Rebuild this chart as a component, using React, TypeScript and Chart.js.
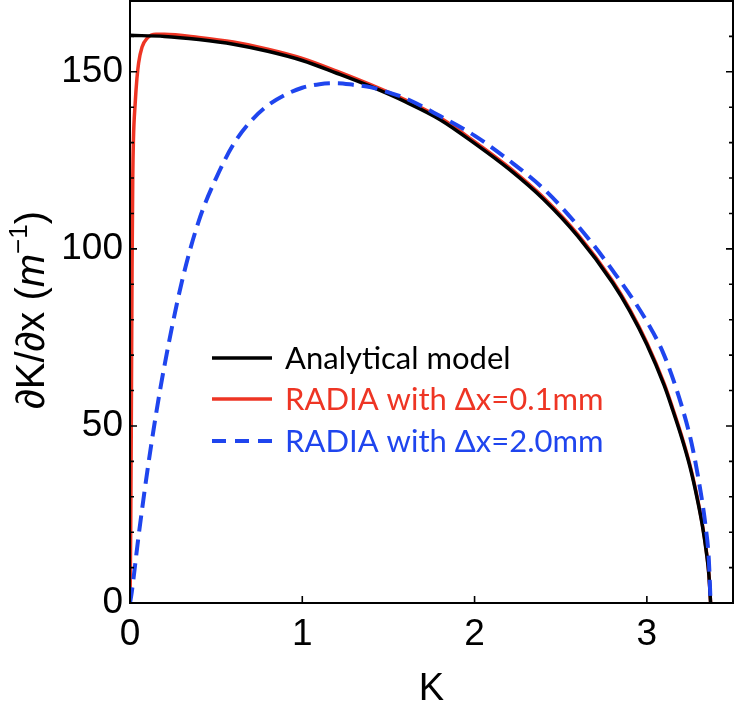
import React, { useEffect, useRef } from 'react';
import { Chart, registerables } from 'chart.js';
Chart.register(...registerables);

// ---- data ----
const analyticK = [0, 0.2, 0.4, 0.6, 0.8, 1.0, 1.2, 1.4, 1.6, 1.8, 2.0, 2.2, 2.4, 2.6, 2.8, 2.9, 3.0, 3.1, 3.15, 3.2, 3.25, 3.29, 3.32, 3.345, 3.36, 3.37];
const analyticVal = [160.3, 160, 159.1, 157.8, 155.8, 153.2, 149.6, 145.8, 141.5, 136.5, 129.8, 122.5, 114, 103.5, 90.5, 82.5, 73, 61.5, 54.5, 47, 38.5, 30, 22.5, 14.5, 8, 0];

const radiaFineK = [0, 0.004, 0.008, 0.012, 0.016, 0.02, 0.03, 0.04, 0.05, 0.07, 0.1, 0.15, 0.2, 0.4, 0.6, 0.8, 1.0, 1.2, 1.4, 1.6, 1.8, 2.0, 2.2, 2.4, 2.6, 2.8, 2.9, 3.0, 3.1, 3.15, 3.2, 3.25, 3.29, 3.32, 3.345, 3.36, 3.37];
const radiaFineVal = [0, 20, 55, 95, 120, 131, 141, 148, 152.5, 157, 159.5, 160.6, 160.6, 159.7, 158.4, 156.4, 153.8, 150.2, 146.3, 142, 137, 130.3, 123, 114.5, 104, 91, 83, 73.5, 62, 55, 47.5, 39, 30.4, 22.8, 14.8, 8.2, 0];

const radiaCoarseK = [0, 0.01, 0.05, 0.1, 0.15, 0.2, 0.3, 0.4, 0.5, 0.6, 0.7, 0.8, 0.9, 1.0, 1.1, 1.2, 1.3, 1.4, 1.5, 1.6, 1.8, 2.0, 2.2, 2.4, 2.6, 2.8, 3.0, 3.1, 3.2, 3.26, 3.31, 3.34, 3.36, 3.37];
const radiaCoarseVal = [0, 3, 19, 37, 53, 67, 90.5, 108, 120, 129.5, 136, 140.5, 143.5, 145.5, 146.5, 146.8, 146.3, 145.6, 144.2, 142.5, 137.5, 132, 125, 117, 106.5, 94, 79.5, 70, 56, 45, 32, 22, 12, 0];

const xTickValues = [0, 1, 2, 3];
const yTickValues = [0, 50, 100, 150];
const seriesLabels = ['Analytical model', 'RADIA with Δx=0.1mm', 'RADIA with Δx=2.0mm'];
const seriesColors = ['#000000', '#ee3524', '#1f45ee'];

const pts = (xs: number[], ys: number[]) => xs.map((x, i) => ({ x, y: ys[i] }));

const TICK_FONT = '"Liberation Sans", Arial, sans-serif';
const LEGEND_FONT = 'Lato, "Open Sans", sans-serif';

const decorPlugin = {
  id: 'decor',
  afterDraw(chart: any) {
    const { ctx, chartArea: a, scales } = chart;
    const xs = scales.x;
    const ys = scales.y;
    ctx.save();
    // frame
    ctx.strokeStyle = '#000';
    ctx.lineWidth = 2;
    ctx.strokeRect(a.left, a.top, a.right - a.left, a.bottom - a.top);
    // y ticks (inward), left and right
    ctx.lineWidth = 1.6;
    for (let v = 0; v <= 170; v += 10) {
      const py = ys.getPixelForValue(v);
      const len = yTickValues.includes(v) ? 7 : 4;
      ctx.beginPath();
      ctx.moveTo(a.left, py); ctx.lineTo(a.left + len, py);
      ctx.moveTo(a.right, py); ctx.lineTo(a.right - len, py);
      ctx.stroke();
    }
    for (const v of xTickValues) {
      const px = xs.getPixelForValue(v);
      ctx.beginPath();
      ctx.moveTo(px, a.bottom); ctx.lineTo(px, a.bottom - 7);
      ctx.stroke();
    }
    // x title
    ctx.fillStyle = '#000';
    ctx.font = `38px ${TICK_FONT}`;
    ctx.textAlign = 'center';
    ctx.textBaseline = 'alphabetic';
    ctx.fillText('K', (a.left + a.right) / 2, 700);

    // y title (rotated)
    const segs = [
      { t: '∂K/∂x (', f: `40px ${TICK_FONT}`, dy: 0 },
      { t: 'm', f: `italic 40px ${TICK_FONT}`, dy: 0 },
      { t: '−1', f: `26px ${TICK_FONT}`, dy: -17 },
      { t: ')', f: `40px ${TICK_FONT}`, dy: 0 },
    ];
    let total = 0;
    const widths = segs.map(s => { ctx.font = s.f; const w = ctx.measureText(s.t).width; total += w; return w; });
    ctx.translate(44, (a.top + a.bottom) / 2 + 8);
    ctx.rotate(-Math.PI / 2);
    ctx.textAlign = 'left';
    let cx = -total / 2;
    segs.forEach((s, i) => { ctx.font = s.f; ctx.fillText(s.t, cx, s.dy); cx += widths[i]; });
    ctx.setTransform(1, 0, 0, 1, 0, 0);

    // legend
    const rowsY = [358, 399, 441];
    ctx.font = `31px ${LEGEND_FONT}`;
    ctx.textBaseline = 'middle';
    ctx.textAlign = 'left';
    seriesLabels.forEach((lab, i) => {
      ctx.strokeStyle = seriesColors[i];
      ctx.lineWidth = i === 2 ? 4 : 3.5;
      ctx.setLineDash(i === 2 ? [14, 9] : []);
      ctx.beginPath();
      ctx.moveTo(212, rowsY[i]); ctx.lineTo(272, rowsY[i]);
      ctx.stroke();
      ctx.setLineDash([]);
      ctx.fillStyle = seriesColors[i];
      ctx.fillText(lab, 285, rowsY[i] + 1);
    });
    ctx.restore();
  },
};

export default function App() {
  const ref = useRef<HTMLCanvasElement>(null);
  useEffect(() => {
    document.body.style.margin = '0';
    const chart = new Chart(ref.current as HTMLCanvasElement, {
      type: 'line',
      data: {
        datasets: [
          {
            label: seriesLabels[2], data: pts(radiaCoarseK, radiaCoarseVal), borderColor: seriesColors[2],
            borderWidth: 4, borderDash: [16, 8], pointRadius: 0, fill: false, cubicInterpolationMode: 'monotone', order: 0,
          },
          {
            label: seriesLabels[0], data: pts(analyticK, analyticVal), borderColor: seriesColors[0],
            borderWidth: 3.5, pointRadius: 0, fill: false, cubicInterpolationMode: 'monotone', order: 1,
          },
          {
            label: seriesLabels[1], data: pts(radiaFineK, radiaFineVal), borderColor: seriesColors[1],
            borderWidth: 3.5, pointRadius: 0, fill: false, cubicInterpolationMode: 'monotone', order: 2,
          },
        ] as any,
      },
      options: {
        responsive: false,
        animation: false,
        events: [],
        layout: { padding: { top: 1, right: 1, left: 0, bottom: 0 } },
        plugins: { legend: { display: false }, tooltip: { enabled: false } },
        scales: {
          x: {
            type: 'linear', min: 0, max: 3.5,
            ticks: { stepSize: 1, includeBounds: false, color: '#000', padding: 10, maxRotation: 0,
              font: { family: TICK_FONT, size: 37 } },
            grid: { display: false, drawTicks: false },
            border: { display: false },
            afterFit: (s: any) => { s.height = 99; s.paddingLeft = 0; s.paddingRight = 0; },
          },
          y: {
            type: 'linear', min: 0, max: 170,
            ticks: { stepSize: 50, includeBounds: false, color: '#000', padding: 7,
              font: { family: TICK_FONT, size: 37 } },
            grid: { display: false, drawTicks: false },
            border: { display: false },
            afterFit: (s: any) => { s.width = 130; s.paddingTop = 0; s.paddingBottom = 0; },
          },
        },
      } as any,
      plugins: [decorPlugin],
    });
    return () => chart.destroy();
  }, []);
  return (
    <div style={{ width: 734, height: 702, background: '#fff' }}>
      <canvas ref={ref} width={734} height={702} />
    </div>
  );
}
